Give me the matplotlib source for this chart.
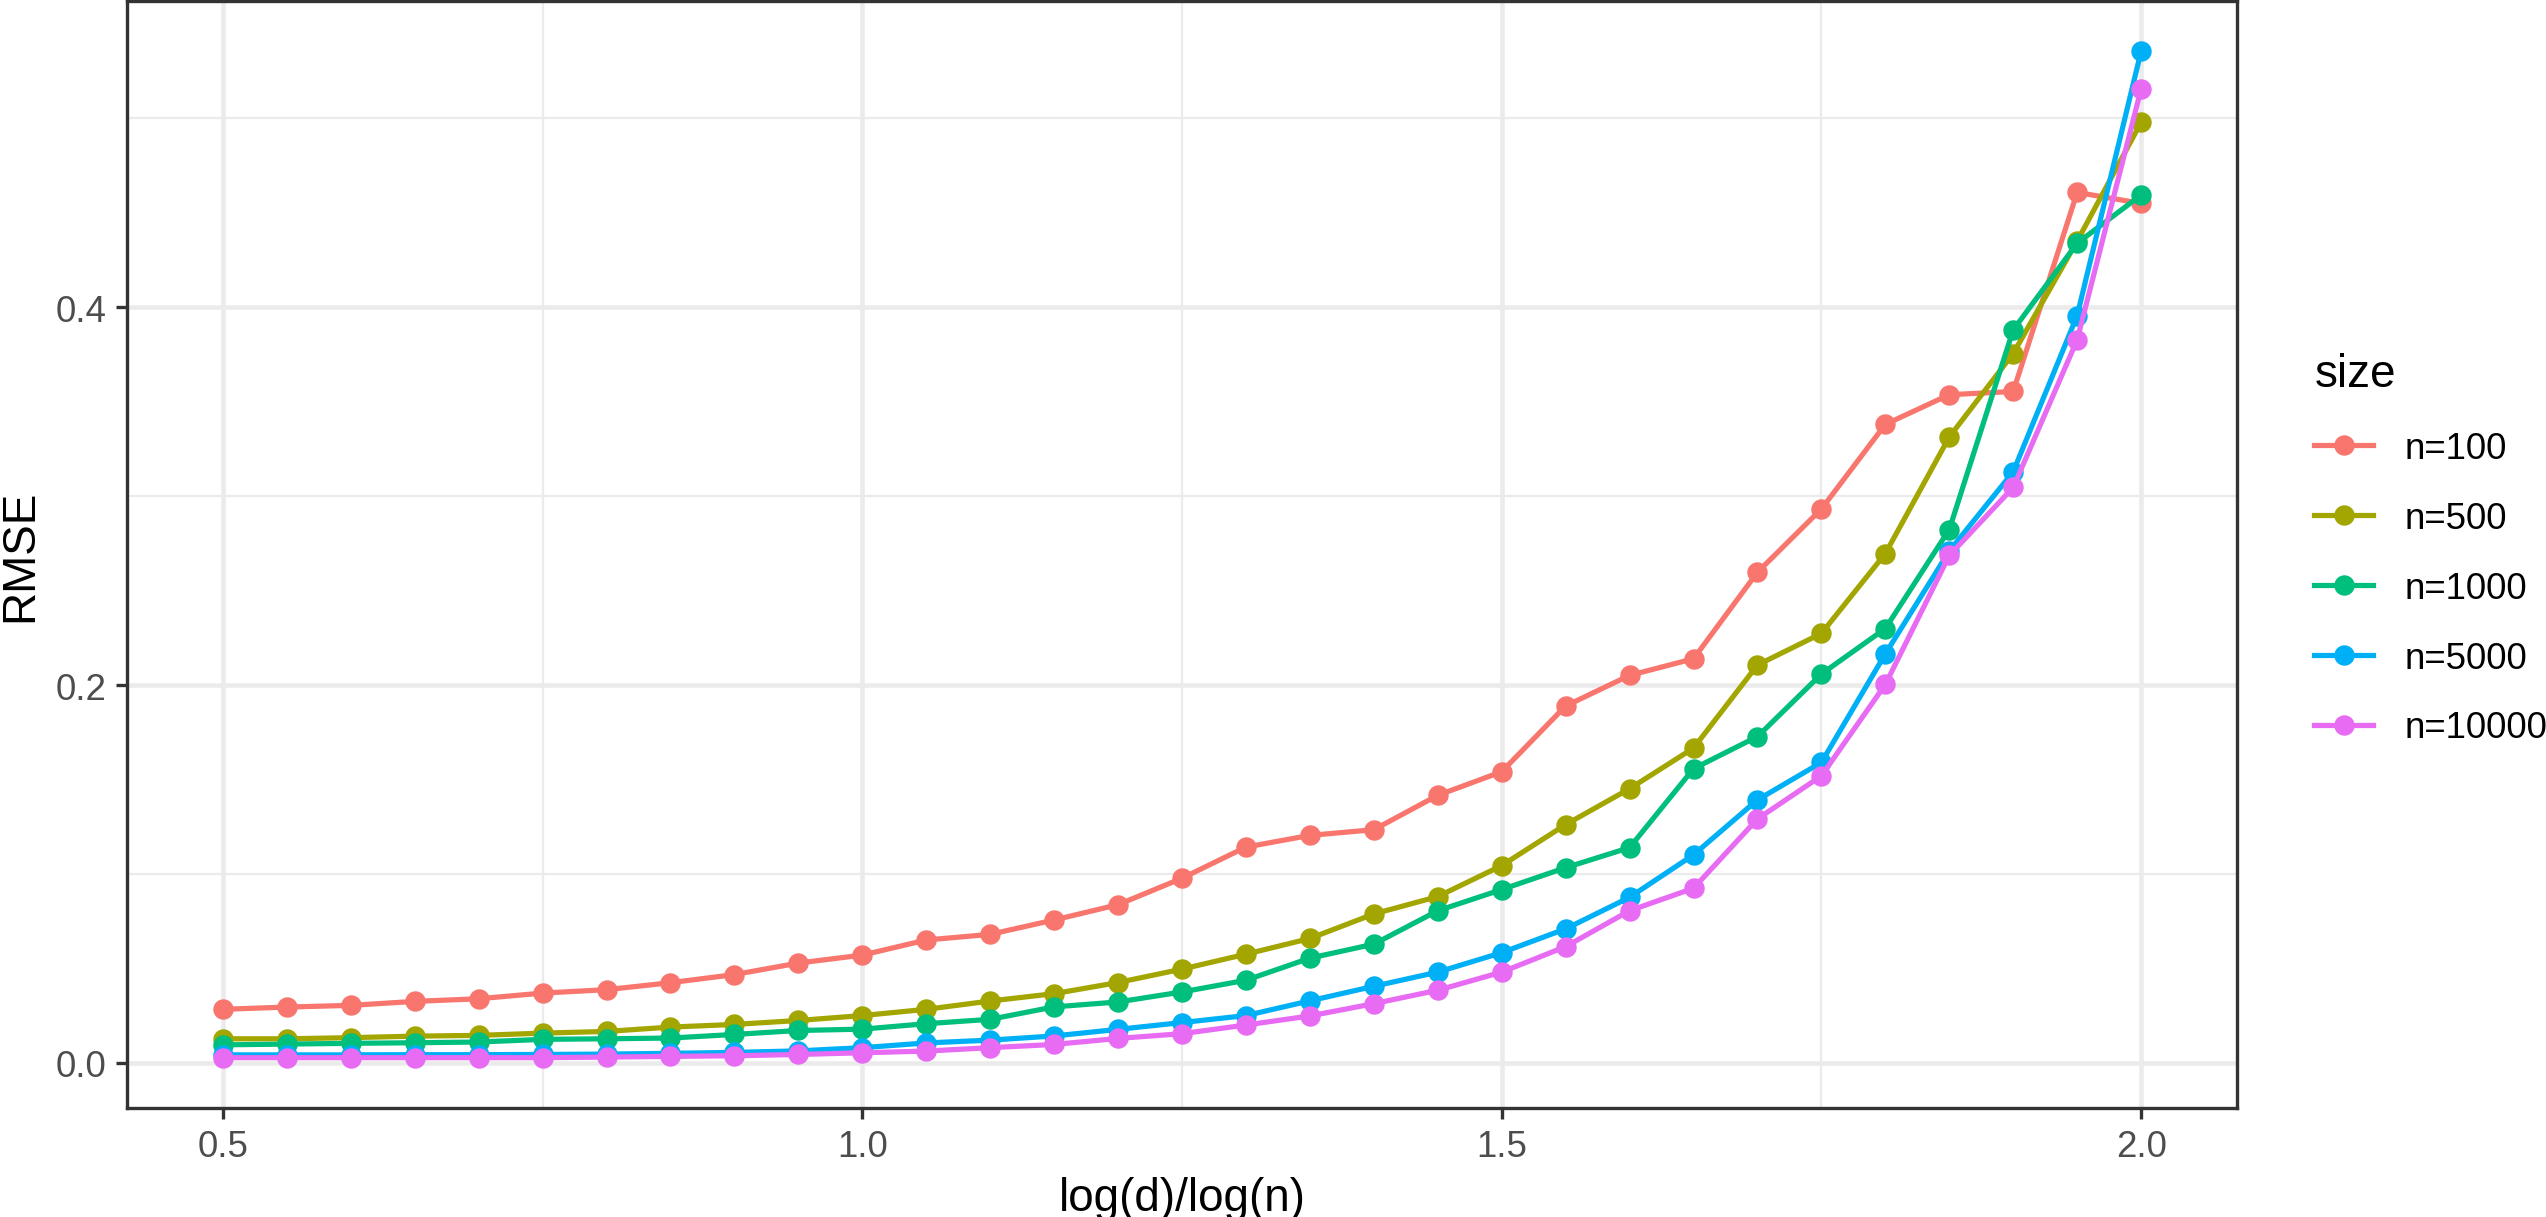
import numpy as np
import matplotlib
matplotlib.use("Agg")
import matplotlib.pyplot as plt
from matplotlib.ticker import MultipleLocator, FormatStrFormatter

plt.rcParams['font.family'] = ['Liberation Sans', 'DejaVu Sans']

# ratio log(d)/log(n)
ratio = [0.5, 0.55, 0.6, 0.65, 0.7, 0.75, 0.8, 0.85, 0.9, 0.95, 1.0,
         1.05, 1.1, 1.15, 1.2, 1.25, 1.3, 1.35, 1.4, 1.45, 1.5,
         1.55, 1.6, 1.65, 1.7, 1.75, 1.8, 1.85, 1.9, 1.95, 2.0]

size_labels = ["n=100", "n=500", "n=1000", "n=5000", "n=10000"]

rmse_n100 = [0.0283, 0.0295, 0.0304, 0.0325, 0.0339, 0.0369, 0.0387, 0.0424, 0.0467, 0.0528, 0.0570,
             0.0650, 0.0680, 0.0756, 0.0837, 0.0977, 0.1142, 0.1204, 0.1234, 0.1416, 0.1541,
             0.1889, 0.2051, 0.2139, 0.2597, 0.2932, 0.3380, 0.3537, 0.3554, 0.4608, 0.4550]
rmse_n500 = [0.0127, 0.0127, 0.0133, 0.0141, 0.0145, 0.0157, 0.0166, 0.0189, 0.0203, 0.0224, 0.0250,
             0.0283, 0.0327, 0.0366, 0.0425, 0.0496, 0.0575, 0.0658, 0.0788, 0.0880, 0.1044,
             0.1261, 0.1451, 0.1666, 0.2106, 0.2273, 0.2696, 0.3313, 0.3755, 0.4350, 0.4979]
rmse_n1000 = [0.0095, 0.0099, 0.0103, 0.0106, 0.0110, 0.0124, 0.0127, 0.0131, 0.0150, 0.0171, 0.0178,
              0.0207, 0.0230, 0.0296, 0.0322, 0.0375, 0.0437, 0.0554, 0.0628, 0.0805, 0.0917,
              0.1033, 0.1139, 0.1557, 0.1727, 0.2058, 0.2299, 0.2823, 0.3880, 0.4339, 0.4594]
rmse_n5000 = [0.0042, 0.0042, 0.0042, 0.0043, 0.0043, 0.0044, 0.0046, 0.0050, 0.0055, 0.0063, 0.0080,
              0.0105, 0.0120, 0.0142, 0.0177, 0.0213, 0.0250, 0.0328, 0.0405, 0.0480, 0.0583,
              0.0709, 0.0876, 0.1101, 0.1392, 0.1590, 0.2165, 0.2709, 0.3129, 0.3956, 0.5355]
rmse_n10000 = [0.0027, 0.0027, 0.0027, 0.0027, 0.0027, 0.0027, 0.0030, 0.0034, 0.0037, 0.0044, 0.0053,
               0.0062, 0.0080, 0.0097, 0.0129, 0.0154, 0.0200, 0.0248, 0.0313, 0.0384, 0.0480,
               0.0615, 0.0805, 0.0924, 0.1291, 0.1519, 0.2003, 0.2686, 0.3046, 0.3827, 0.5155]

series = [rmse_n100, rmse_n500, rmse_n1000, rmse_n5000, rmse_n10000]
colors = ["#F8766D", "#A3A500", "#00BF7D", "#00B0F6", "#E76BF3"]

fig = plt.figure(figsize=(2546 / 300, 1218 / 300), dpi=300)
ax = fig.add_axes([127 / 2546, 1 - 1109 / 1218, (2237 - 127) / 2546, (1109 - 2) / 1218])

handles = []
for vals, col, lab in zip(series, colors, size_labels):
    h, = ax.plot(ratio, vals, color=col, linewidth=1.25, marker="o", markersize=4.9,
                 markeredgewidth=0, label=lab, zorder=3)
    handles.append(h)

# ggplot-style expansion (5%)
allv = np.concatenate([np.asarray(s) for s in series])
ymin, ymax = allv.min(), allv.max()
xr = max(ratio) - min(ratio)
yr = ymax - ymin
ax.set_xlim(min(ratio) - 0.05 * xr, max(ratio) + 0.05 * xr)
ax.set_ylim(ymin - 0.05 * yr, ymax + 0.05 * yr)

ax.xaxis.set_major_locator(MultipleLocator(0.5))
ax.xaxis.set_minor_locator(MultipleLocator(0.25))
ax.yaxis.set_major_locator(MultipleLocator(0.2))
ax.yaxis.set_minor_locator(MultipleLocator(0.1))
ax.xaxis.set_major_formatter(FormatStrFormatter("%.1f"))
ax.yaxis.set_major_formatter(FormatStrFormatter("%.1f"))

ax.grid(which="major", color="#EBEBEB", linewidth=1.1, zorder=0)
ax.grid(which="minor", color="#EBEBEB", linewidth=0.55, zorder=0)
ax.set_axisbelow(True)
for sp in ax.spines.values():
    sp.set_color("#333333")
    sp.set_linewidth(0.8)
ax.tick_params(which="major", length=2.75, width=0.8, color="#333333",
               labelsize=8.8, labelcolor="#4D4D4D", pad=2.2)
ax.tick_params(which="minor", length=0)

ax.set_xlabel("log(d)/log(n)", fontsize=11, labelpad=3)
ax.set_ylabel("RMSE", fontsize=11)
ax.yaxis.set_label_coords(-0.040, 0.5)

leg = fig.legend(handles=handles, title="size", loc="upper left",
                 bbox_to_anchor=(2296 / 2546, 1 - 335 / 1218),
                 frameon=False, fontsize=8.8, title_fontsize=11,
                 handlelength=1.6, handletextpad=0.85, labelspacing=0.95,
                 alignment="left", borderpad=0)

fig.savefig("out.png", dpi=300)
